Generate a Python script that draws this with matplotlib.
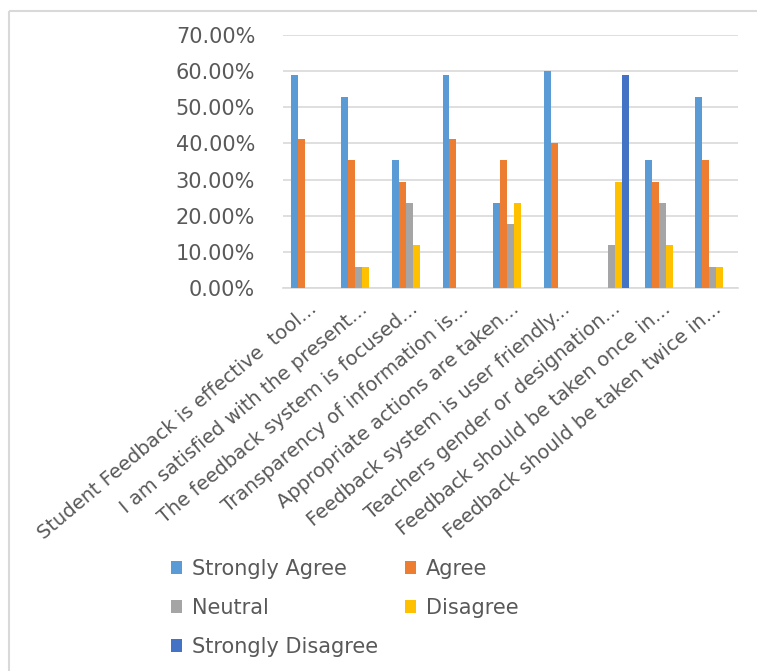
import matplotlib
matplotlib.use("Agg")
import matplotlib.pyplot as plt
from matplotlib.lines import Line2D
from matplotlib.patches import Patch
import numpy as np

categories = [
    "Student Feedback is effective  tool...",
    "I am satisfied with the present...",
    "The feedback system is focused...",
    "Transparency of information is...",
    "Appropriate actions are taken...",
    "Feedback system is user friendly...",
    "Teachers gender or designation...",
    "Feedback should be taken once in...",
    "Feedback should be taken twice in...",
]
series_names = ["Strongly Agree", "Agree", "Neutral", "Disagree", "Strongly Disagree"]
strongly_agree = [58.82, 52.94, 35.29, 58.82, 23.53, 60.00, 0.0, 35.29, 52.94]
agree = [41.18, 35.29, 29.41, 41.18, 35.29, 40.00, 0.0, 29.41, 35.29]
neutral = [0.0, 5.88, 23.53, 0.0, 17.65, 0.0, 11.76, 23.53, 5.88]
disagree = [0.0, 5.88, 11.76, 0.0, 23.53, 0.0, 29.41, 11.76, 5.88]
strongly_disagree = [0.0, 0.0, 0.0, 0.0, 0.0, 0.0, 58.82, 0.0, 0.0]
yticks = [0, 10, 20, 30, 40, 50, 60, 70]

colors = ["#5B9BD5", "#ED7D31", "#A5A5A5", "#FFC000", "#4472C4"]
text_color = "#595959"
grid_color = "#D9D9D9"

plt.rcParams['font.family'] = ['DejaVu Sans']

fig = plt.figure(figsize=(7.57, 6.71), dpi=100)
ax = fig.add_axes([283/757, 1-288/671, (738-283)/757, (288-35)/671])

data = [strongly_agree, agree, neutral, disagree, strongly_disagree]
x = np.arange(len(categories))
w = 0.138
handles = []
for i, (vals, c, name) in enumerate(zip(data, colors, series_names)):
    ax.bar(x + (i - 2) * w, vals, width=w, color=c, label=name, zorder=3)
    handles.append(Patch(facecolor=c, edgecolor='none', label=name))

ax.set_xlim(-0.5, len(categories) - 0.5)
ax.set_ylim(0, 70)
ax.set_yticks(yticks)
ax.set_yticklabels([f"{v:.2f}%" for v in yticks], color=text_color, fontsize=15)
ax.yaxis.grid(True, color=grid_color, linewidth=1.2, zorder=0)
ax.set_axisbelow(True)
for s in ["top", "right", "left"]:
    ax.spines[s].set_visible(False)
ax.spines["bottom"].set_color(grid_color)
ax.spines["bottom"].set_linewidth(1.2)
ax.tick_params(axis='both', length=0)
ax.tick_params(axis='y', pad=20)
ax.set_xticks(x)
ax.set_xticklabels(categories, rotation=40, ha='right', rotation_mode='anchor',
                   color=text_color, fontsize=14)
ax.tick_params(axis='x', pad=8)

order = [0, 2, 4, 1, 3]
fig.legend([handles[i] for i in order], [series_names[i] for i in order],
           ncol=2, loc='upper left', bbox_to_anchor=(152/757, 1-540/671),
           frameon=False, fontsize=15, labelcolor=text_color,
           handlelength=0.55, handleheight=0.55, handletextpad=0.45,
           columnspacing=1.3, labelspacing=0.92)

fig.add_artist(Line2D([9/757, 1.0], [1-11/671, 1-11/671], color=grid_color, lw=1.5,
                      solid_capstyle='butt', transform=fig.transFigure))
fig.add_artist(Line2D([9/757, 9/757], [0, 1-11/671], color=grid_color, lw=1.5,
                      solid_capstyle='butt', transform=fig.transFigure))

fig.savefig("out.png", dpi=100)
